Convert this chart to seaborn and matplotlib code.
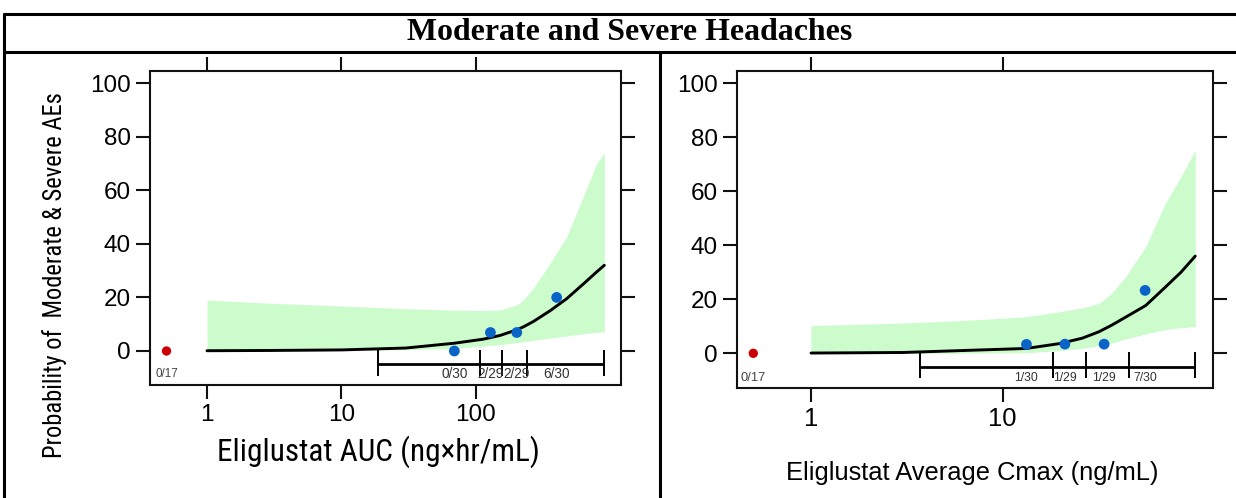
import matplotlib
matplotlib.use("Agg")
import matplotlib.pyplot as plt
from matplotlib import font_manager
from matplotlib.lines import Line2D
import seaborn as sns
import pandas as pd

# ---------------- data ----------------
# Left panel: Eliglustat AUC
auc_grid = [1, 3, 10, 30, 69, 113, 151, 201, 225, 267, 355, 472, 628, 789, 900]
auc_prob = [0.1, 0.2, 0.4, 1.1, 2.9, 4.4, 5.8, 7.9, 9.0, 11.0, 15.0, 19.5, 25.0, 29.5, 32.0]
auc_upper = [19.0, 17.8, 16.8, 15.8, 15.2, 15.1, 15.3, 17.2, 19.0, 23.4, 32.7, 42.6, 57.6, 70.0, 74.0]
auc_lower = [0.0, 0.0, 0.2, 0.5, 0.9, 1.8, 2.4, 3.1, 3.5, 4.0, 4.8, 5.6, 6.4, 7.0, 7.2]
auc_obs_x = [69, 128, 201, 398]
auc_obs_y = [0.0, 6.9, 6.9, 20.0]
auc_bin_edges = [18.6, 107, 155, 238, 899]
auc_bin_labels = ["0/30", "2/29", "2/29", "6/30"]

# Right panel: Eliglustat average Cmax
cmax_grid = [1, 3, 6, 13.3, 19.8, 26, 31.8, 37, 43.8, 55.7, 70.5, 85, 101]
cmax_prob = [0.1, 0.3, 1.0, 1.8, 3.6, 5.6, 8.0, 10.4, 13.4, 17.7, 24.5, 30.0, 36.0]
cmax_upper = [10.3, 11.2, 12.1, 13.5, 15.4, 16.8, 18.5, 22.2, 28.4, 39.5, 55.5, 65.4, 75.3]
cmax_lower = [0.0, 0.0, 0.0, 0.2, 1.0, 1.9, 2.8, 3.8, 5.3, 7.2, 8.8, 9.5, 9.9]
cmax_obs_x = [13.3, 21.1, 33.8, 55.3]
cmax_obs_y = [3.3, 3.4, 3.4, 23.3]
cmax_bin_edges = [3.7, 18.4, 27.2, 45.4, 101]
cmax_bin_labels = ["1/30", "1/29", "1/29", "7/30"]

placebo_x = [0.5]
placebo_y = [0.0]
placebo_label = "0/17"

y_ticks = [0, 20, 40, 60, 80, 100]
title = "Moderate and Severe Headaches"
ylabel = "Probability of  Moderate & Severe AEs"
xlabel_left = "Eliglustat AUC (ng\u00d7hr/mL)"
xlabel_right = "Eliglustat Average Cmax (ng/mL)"

# ---------------- style ----------------
sns.set_style("ticks")
fonts = font_manager.fontManager.ttflist
names = {f.name for f in fonts}
SANS = "Liberation Sans" if "Liberation Sans" in names else "DejaVu Sans"
SERIF = "Liberation Serif" if "Liberation Serif" in names else "DejaVu Serif"
NARROW = SANS
for cand in ["Liberation Sans Narrow", "Arial Narrow", "Roboto Condensed",
             "Open Sans Condensed", "Noto Sans Condensed", "DejaVu Sans Condensed"]:
    if cand in names:
        NARROW = cand
        break
plt.rcParams["font.family"] = [SANS, "DejaVu Sans"]
plt.rcParams["text.color"] = "black"
plt.rcParams["xtick.color"] = "black"
plt.rcParams["ytick.color"] = "black"

BAND = "#ccfccc"
BLUE = "#0a64c8"
RED = "#cc0000"

W, H = 1236, 498
fig = plt.figure(figsize=(W / 100, H / 100), dpi=100)
renderer = fig.canvas.get_renderer()


def fx(px):
    return px / W


def fy(py):
    return 1 - py / H


def fit(t, target, vertical=False):
    bb = t.get_window_extent(renderer)
    size = bb.height if vertical else bb.width
    t.set_fontsize(t.get_fontsize() * target / size)


axL = fig.add_axes([fx(150), fy(385), fx(621 - 150), (385 - 71) / H])
axR = fig.add_axes([fx(736.5), fy(388), fx(1213 - 736.5), (388 - 71) / H])


def draw(ax, grid, prob, upper, lower, ox, oy, edges, labels, xlim, ylim,
         xticks, tick_fs, bin_fs, plac_fs, bar_y, tick_lo, lab_y):
    ax.set_xscale("log")
    ax.fill_between(grid, lower, upper, color=BAND, lw=0, zorder=1)
    df = pd.DataFrame({"x": grid, "p": prob})
    sns.lineplot(data=df, x="x", y="p", ax=ax, color="black", lw=2.1,
                 estimator=None, sort=True, zorder=3)
    dfo = pd.DataFrame({"x": ox, "y": oy})
    sns.scatterplot(data=dfo, x="x", y="y", ax=ax, color=BLUE, s=60,
                    edgecolor="none", zorder=4)
    dfp = pd.DataFrame({"x": placebo_x, "y": placebo_y})
    sns.scatterplot(data=dfp, x="x", y="y", ax=ax, color=RED, s=45,
                    edgecolor="none", zorder=4)
    # exposure bins bar
    ax.hlines(bar_y, edges[0], edges[-1], color="black", lw=2.0, zorder=3)
    ax.vlines(edges, tick_lo, 0.3, color="black", lw=1.4, zorder=3)
    for xv, lab in zip(ox, labels):
        ax.text(xv, lab_y, lab, ha="center", va="center", fontsize=bin_fs,
                color="#333333", zorder=5)
    ax.text(placebo_x[0], lab_y, placebo_label, ha="center", va="center",
            fontsize=plac_fs, color="#444444", zorder=5)

    ax.set_xlim(*xlim)
    ax.set_ylim(*ylim)
    ax.set_xticks(xticks)
    ax.set_xticklabels([str(t) for t in xticks])
    ax.minorticks_off()
    ax.set_yticks(y_ticks)
    ax.set_yticklabels([str(t) for t in y_ticks])
    ax.tick_params(axis="both", which="both", direction="out", length=10,
                   width=1.5, color="#111111", labelcolor="black", top=True,
                   right=True, labeltop=False, labelright=False)
    ax.tick_params(axis="y", labelsize=17.5, pad=3.6)
    ax.tick_params(axis="x", labelsize=tick_fs, pad=4)
    for s in ax.spines.values():
        s.set_visible(True)
        s.set_linewidth(1.5)
        s.set_color("#111111")
    ax.set_xlabel("")
    ax.set_ylabel("")
    ax.set_facecolor("white")


draw(axL, auc_grid, auc_prob, auc_upper, auc_lower, auc_obs_x, auc_obs_y,
     auc_bin_edges, auc_bin_labels, (0.3769, 1197), (-12.69, 104.48),
     [1, 10, 100], 17.5, 9.8, 8.4, -4.85, -9.3, -8.6)
draw(axR, cmax_grid, cmax_prob, cmax_upper, cmax_lower, cmax_obs_x, cmax_obs_y,
     cmax_bin_edges, cmax_bin_labels, (0.4087, 125), (-12.85, 104.56),
     [1, 10], 18.4, 8.8, 9.3, -5.0, -9.1, -9.0)

# axis labels
tl = fig.text(fx(378), fy(452), xlabel_left, ha="center", va="center",
              fontsize=22, family=[NARROW, "DejaVu Sans"])
fit(tl, 323)
fig.text(fx(972.5), fy(473), xlabel_right, ha="center", va="center",
         fontsize=18.4, family=[SANS, "DejaVu Sans"])
ty = fig.text(fx(55), fy(275), ylabel, ha="center", va="center", rotation=90,
              fontsize=18, family=[NARROW, "DejaVu Sans"])
fit(ty, 366, vertical=True)

# title
tt = fig.text(fx(630), fy(33), title, ha="center", va="center", fontsize=22,
              fontweight="bold", family=[SERIF, "DejaVu Serif"])
fit(tt, 444)

# frame lines
lw = 2.2
for (x0, y0, x1, y1) in [(4, 14, W, 14), (4, 52, W, 52), (4, 14, 4, H),
                         (660, 52, 660, H)]:
    fig.add_artist(Line2D([fx(x0), fx(x1)], [fy(y0), fy(y1)],
                          transform=fig.transFigure, color="black", lw=lw))

fig.savefig("out.png", dpi=100, facecolor="white")
